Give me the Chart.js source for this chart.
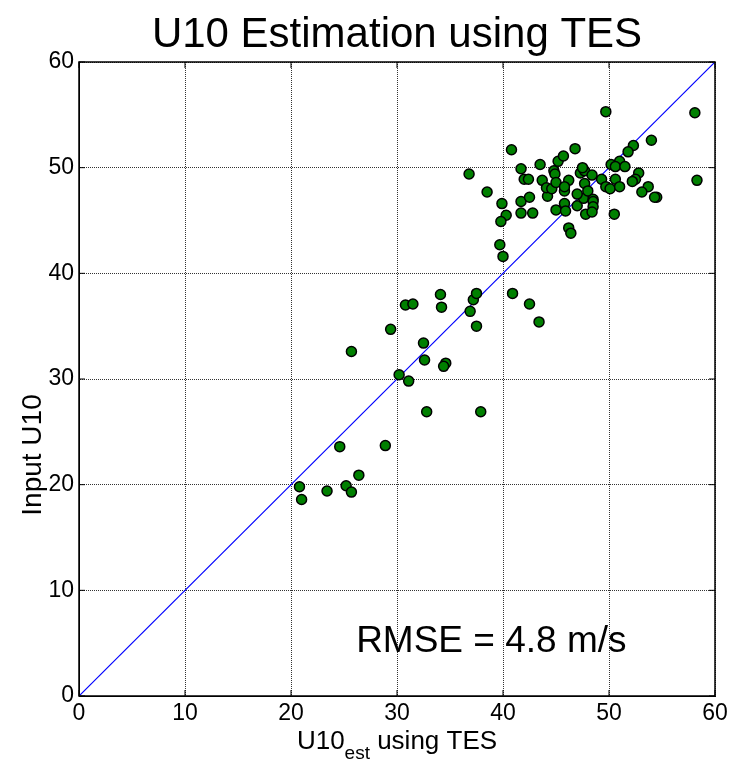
<!DOCTYPE html>
<html>
<head>
<meta charset="utf-8">
<script src="https://cdn.jsdelivr.net/npm/chart.js@4.4.1/dist/chart.umd.min.js"></script>
<style>
  html, body { margin: 0; padding: 0; background: #fff; }
  #wrap { width: 733px; height: 762px; position: relative; }
</style>
</head>
<body>
<div id="wrap"><canvas id="myChart" width="733" height="762"></canvas></div>
<script>
// U10 estimated from TES (x) vs input U10 (y)
const estU10 = [
  20.8, 21.0, 23.4, 24.6, 25.2, 25.7, 26.4, 28.9,
  25.7, 29.4, 30.2, 31.1, 30.8, 31.5, 32.5, 32.6, 32.8, 34.1, 34.2, 34.6, 34.4,
  36.9, 37.2, 37.5, 37.5, 37.9, 40.9, 42.5, 43.4,
  38.5, 39.9, 40.3, 39.8, 39.7, 40.0, 41.7, 42.5, 41.7, 42.8, 44.2, 45.0, 45.8,
  45.9, 46.2, 46.4, 47.0, 47.6, 47.0, 47.8, 45.8, 40.8, 36.8, 41.7, 42.0, 42.4,
  43.5, 44.8, 44.9, 45.2, 45.7, 43.7, 44.1, 44.6, 45.0, 46.2, 45.8, 46.8, 47.3,
  47.7, 47.5, 47.7, 48.0, 49.7, 58.1, 54.0, 52.3, 51.8, 51.0, 50.2, 50.6, 51.5,
  52.8, 52.5, 52.2, 50.6, 49.3, 48.4, 49.7, 50.1, 51.0, 53.7, 53.1, 58.3, 54.5,
  54.3, 48.5, 48.5, 48.5, 48.4, 50.5
];
const inputU10 = [
  19.8, 18.6, 19.4, 23.6, 19.9, 19.3, 20.9, 23.7,
  32.6, 34.7, 30.4, 29.8, 37.0, 37.1, 33.4, 31.8, 26.9, 38.0, 36.8, 31.5, 31.2,
  36.4, 37.5, 38.1, 35.0, 26.9, 38.1, 37.1, 35.4,
  47.7, 46.6, 45.5, 44.9, 42.7, 41.6, 46.8, 47.2, 45.7, 45.7, 47.3, 46.0, 46.6,
  45.9, 44.3, 43.8, 46.4, 47.1, 47.5, 45.6, 47.8, 51.7, 49.4, 49.9, 48.9, 48.9,
  50.3, 49.7, 49.4, 50.6, 51.1, 48.8, 48.1, 48.0, 48.6, 48.8, 48.2, 51.8, 49.5,
  49.7, 50.0, 48.5, 47.8, 55.3, 55.2, 52.6, 52.1, 51.5, 50.6, 50.3, 50.1, 50.1,
  49.5, 48.9, 48.7, 48.9, 48.9, 49.3, 48.2, 48.0, 48.2, 48.2, 47.7, 48.8, 47.2,
  47.2, 47.0, 46.8, 46.3, 45.8, 45.6
];
const oneToOne = [0, 60];
const tickValues = [0, 10, 20, 30, 40, 50, 60];
const titleText = "U10 Estimation using TES";
const yLabel = "Input U10";
const rmseText = "RMSE = 4.8 m/s";

const points = estU10.map((x, i) => ({ x: x, y: inputU10[i] }));
const diag = oneToOne.map(v => ({ x: v, y: v }));

const FONT = "'Liberation Sans', Arial, sans-serif";

const decor = {
  id: "decor",
  afterDraw(chart) {
    const ctx = chart.ctx;
    const a = chart.chartArea;
    const xs = chart.scales.x, ys = chart.scales.y;
    ctx.save();
    // box
    ctx.strokeStyle = "#000";
    ctx.lineWidth = 1.5;
    ctx.strokeRect(a.left, a.top, a.right - a.left, a.bottom - a.top);
    // inner ticks
    ctx.lineWidth = 1;
    tickValues.forEach(v => {
      const px = xs.getPixelForValue(v);
      ctx.beginPath();
      ctx.moveTo(px, a.bottom); ctx.lineTo(px, a.bottom - 6);
      ctx.moveTo(px, a.top); ctx.lineTo(px, a.top + 6);
      const py = ys.getPixelForValue(v);
      ctx.moveTo(a.left, py); ctx.lineTo(a.left + 6, py);
      ctx.moveTo(a.right, py); ctx.lineTo(a.right - 6, py);
      ctx.stroke();
    });
    ctx.fillStyle = "#000";
    // title
    ctx.font = "42px " + FONT;
    ctx.textAlign = "center";
    ctx.textBaseline = "alphabetic";
    ctx.fillText(titleText, (a.left + a.right) / 2, 47);
    // x label with subscript
    const p1 = "U10", sub = "est", p2 = " using TES";
    ctx.font = "26px " + FONT;
    const w1 = ctx.measureText(p1).width, w3 = ctx.measureText(p2).width;
    ctx.font = "19px " + FONT;
    const w2 = ctx.measureText(sub).width;
    let sx = (a.left + a.right) / 2 - (w1 + w2 + w3) / 2;
    ctx.textAlign = "left";
    ctx.font = "26px " + FONT;
    ctx.fillText(p1, sx, 749);
    ctx.font = "19px " + FONT;
    ctx.fillText(sub, sx + w1, 759);
    ctx.font = "26px " + FONT;
    ctx.fillText(p2, sx + w1 + w2, 749);
    // y label
    ctx.save();
    ctx.translate(41, (a.top + a.bottom) / 2 + 76);
    ctx.rotate(-Math.PI / 2);
    ctx.textAlign = "center";
    ctx.font = "28px " + FONT;
    ctx.fillText(yLabel, 0, 0);
    ctx.restore();
    // RMSE annotation
    ctx.font = "37px " + FONT;
    ctx.textAlign = "center";
    ctx.fillText(rmseText, xs.getPixelForValue(38.9), ys.getPixelForValue(4.2));
    ctx.restore();
  }
};

new Chart("myChart", {
  type: "scatter",
  data: {
    datasets: [
      {
        data: points,
        showLine: false,
        backgroundColor: "#008000",
        borderColor: "#000",
        borderWidth: 1.5,
        pointRadius: 5,
        order: 1
      },
      {
        type: "line",
        data: diag,
        showLine: true,
        borderColor: "#0000ff",
        borderWidth: 1.2,
        pointRadius: 0,
        fill: false,
        order: 2
      }
    ]
  },
  options: {
    responsive: false,
    animation: false,
    layout: { padding: { top: 62, right: 18, left: 0, bottom: 0 } },
    plugins: { legend: { display: false }, tooltip: { enabled: false } },
    scales: {
      x: {
        type: "linear", min: 0, max: 60,
        afterBuildTicks: s => { s.ticks = tickValues.map(v => ({ value: v })); },
        afterFit: s => { s.height = 66; },
        grid: { color: "#333", lineWidth: 1, drawTicks: false },
        border: { display: true, color: "#000", dash: [1, 1] },
        ticks: { color: "#000", padding: 4, font: { size: 23, family: FONT }, maxRotation: 0 }
      },
      y: {
        type: "linear", min: 0, max: 60,
        afterBuildTicks: s => { s.ticks = tickValues.map(v => ({ value: v })); },
        afterFit: s => { s.width = 79; },
        grid: { color: "#333", lineWidth: 1, drawTicks: false },
        border: { display: true, color: "#000", dash: [1, 1] },
        ticks: { color: "#000", padding: 5, font: { size: 23, family: FONT } }
      }
    }
  },
  plugins: [decor]
});
</script>
</body>
</html>
